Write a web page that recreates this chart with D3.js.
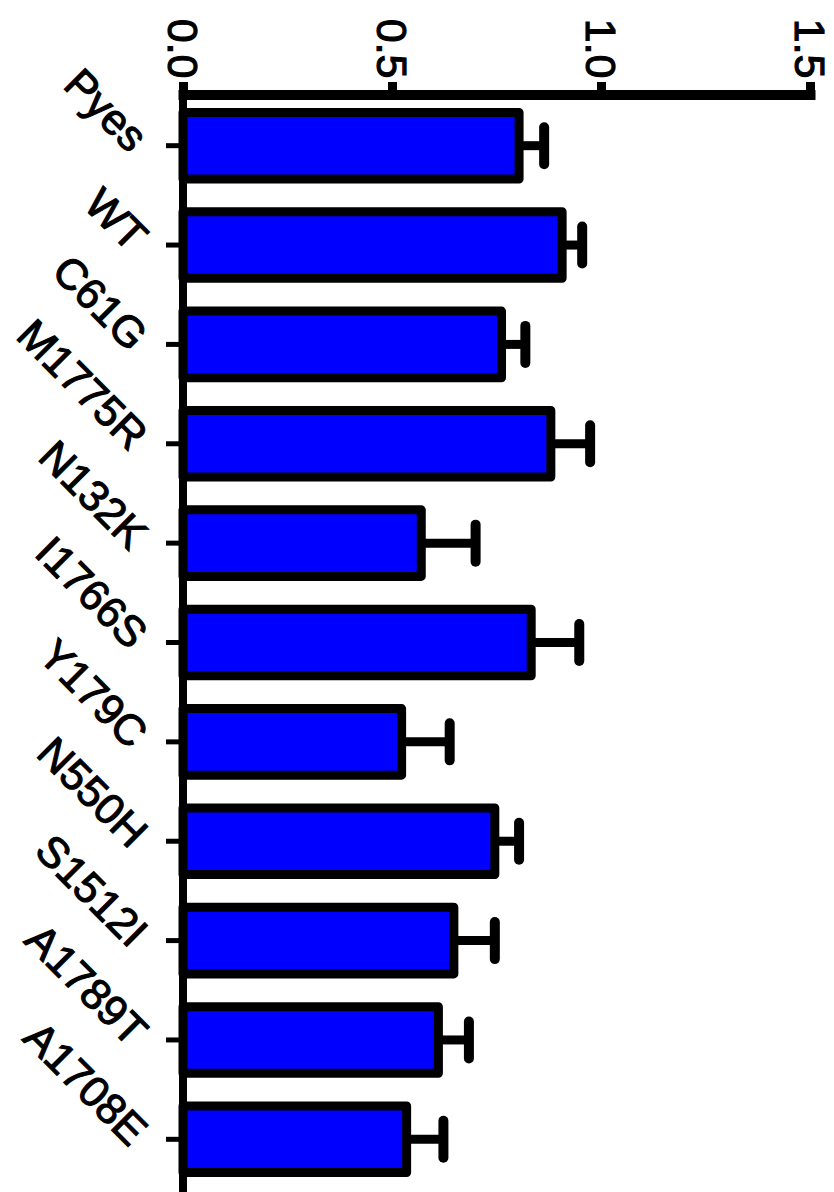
<!DOCTYPE html>
<html>
<head>
<meta charset="utf-8">
<script src="https://cdn.jsdelivr.net/npm/d3@7"></script>
<style>
  html, body { margin: 0; padding: 0; background: #fff; }
  svg { display: block; }
  text { font-family: "Liberation Sans", Arial, sans-serif; fill: #000;
         stroke: #000; stroke-width: 1.1px; paint-order: stroke; }
</style>
</head>
<body>
<svg id="chart" width="834" height="1192"></svg>
<script>
// Strains / variants, top to bottom
const categories = ["Pyes", "WT", "C61G", "M1775R", "N132K", "I1766S",
                    "Y179C", "N550H", "S1512I", "A1789T", "A1708E"];
// Mean values
const means = [0.804, 0.907, 0.762, 0.880, 0.570, 0.833,
               0.523, 0.746, 0.648, 0.611, 0.535];
// Upper error (SEM)
const errors = [0.060, 0.048, 0.057, 0.094, 0.130, 0.115,
                0.115, 0.058, 0.098, 0.073, 0.088];
// Value axis ticks
const tickValues = [0, 0.5, 1.0, 1.5];

const svg = d3.select("#chart");

const x = d3.scaleLinear().domain([0, 1.5]).range([183, 810]);
const y = d3.scaleBand().domain(categories).range([96, 1189])
  .paddingInner(0.33).paddingOuter(0.165);

const data = categories.map((c, i) => ({ c, v: means[i], e: errors[i] }));

// Bars
svg.append("g").selectAll("rect").data(data).join("rect")
  .attr("x", x(0))
  .attr("y", d => y(d.c))
  .attr("width", d => x(d.v) - x(0))
  .attr("height", y.bandwidth())
  .attr("fill", "#0000ff")
  .attr("stroke", "#000")
  .attr("stroke-width", 9)
  .attr("stroke-linejoin", "round");

// Error bars (upper side only)
const eb = svg.append("g").attr("stroke", "#000");
eb.selectAll("line.whisker").data(data).join("line")
  .attr("class", "whisker")
  .attr("x1", d => x(d.v)).attr("x2", d => x(d.v + d.e))
  .attr("y1", d => y(d.c) + y.bandwidth() / 2)
  .attr("y2", d => y(d.c) + y.bandwidth() / 2)
  .attr("stroke-width", 9);
eb.selectAll("line.cap").data(data).join("line")
  .attr("class", "cap")
  .attr("x1", d => x(d.v + d.e)).attr("x2", d => x(d.v + d.e))
  .attr("y1", d => y(d.c) + y.bandwidth() / 2 - 18.5)
  .attr("y2", d => y(d.c) + y.bandwidth() / 2 + 18.5)
  .attr("stroke-width", 10)
  .attr("stroke-linecap", "round");

// Value axis along the top
const axisY = 94.5;
const gx = svg.append("g").attr("transform", `translate(0,${axisY})`)
  .call(d3.axisTop(x).tickValues(tickValues).tickSize(12.5).tickSizeOuter(0)
    .tickFormat(d3.format(".1f")));
gx.select(".domain").attr("stroke", "#000").attr("stroke-width", 10)
  .attr("stroke-linecap", "square");
gx.selectAll(".tick line").attr("stroke", "#000").attr("stroke-width", 9);
gx.selectAll(".tick text")
  .attr("font-size", 43)
  .attr("text-anchor", "end")
  .attr("transform", "rotate(90)")
  .attr("x", -16).attr("y", 0)
  .attr("dy", "0.35em")
  .attr("fill", "#000");

// Category axis on the left
const gy = svg.append("g").attr("transform", `translate(${x(0)},0)`)
  .call(d3.axisLeft(y).tickSize(17).tickSizeOuter(0).tickFormat(""));
gy.select(".domain").remove();
gy.selectAll(".tick line").attr("stroke", "#000").attr("stroke-width", 5);
svg.append("line")
  .attr("x1", x(0)).attr("x2", x(0))
  .attr("y1", 82).attr("y2", 1192)
  .attr("stroke", "#000").attr("stroke-width", 8);

// Category labels, slanted
svg.append("g").selectAll("text").data(categories).join("text")
  .attr("transform", d => `translate(140,${y(d) + y.bandwidth() / 2 - 2}) rotate(45)`)
  .attr("text-anchor", "end")
  .attr("dy", "0.35em")
  .attr("font-size", 43)
  .text(d => d);
</script>
</body>
</html>
